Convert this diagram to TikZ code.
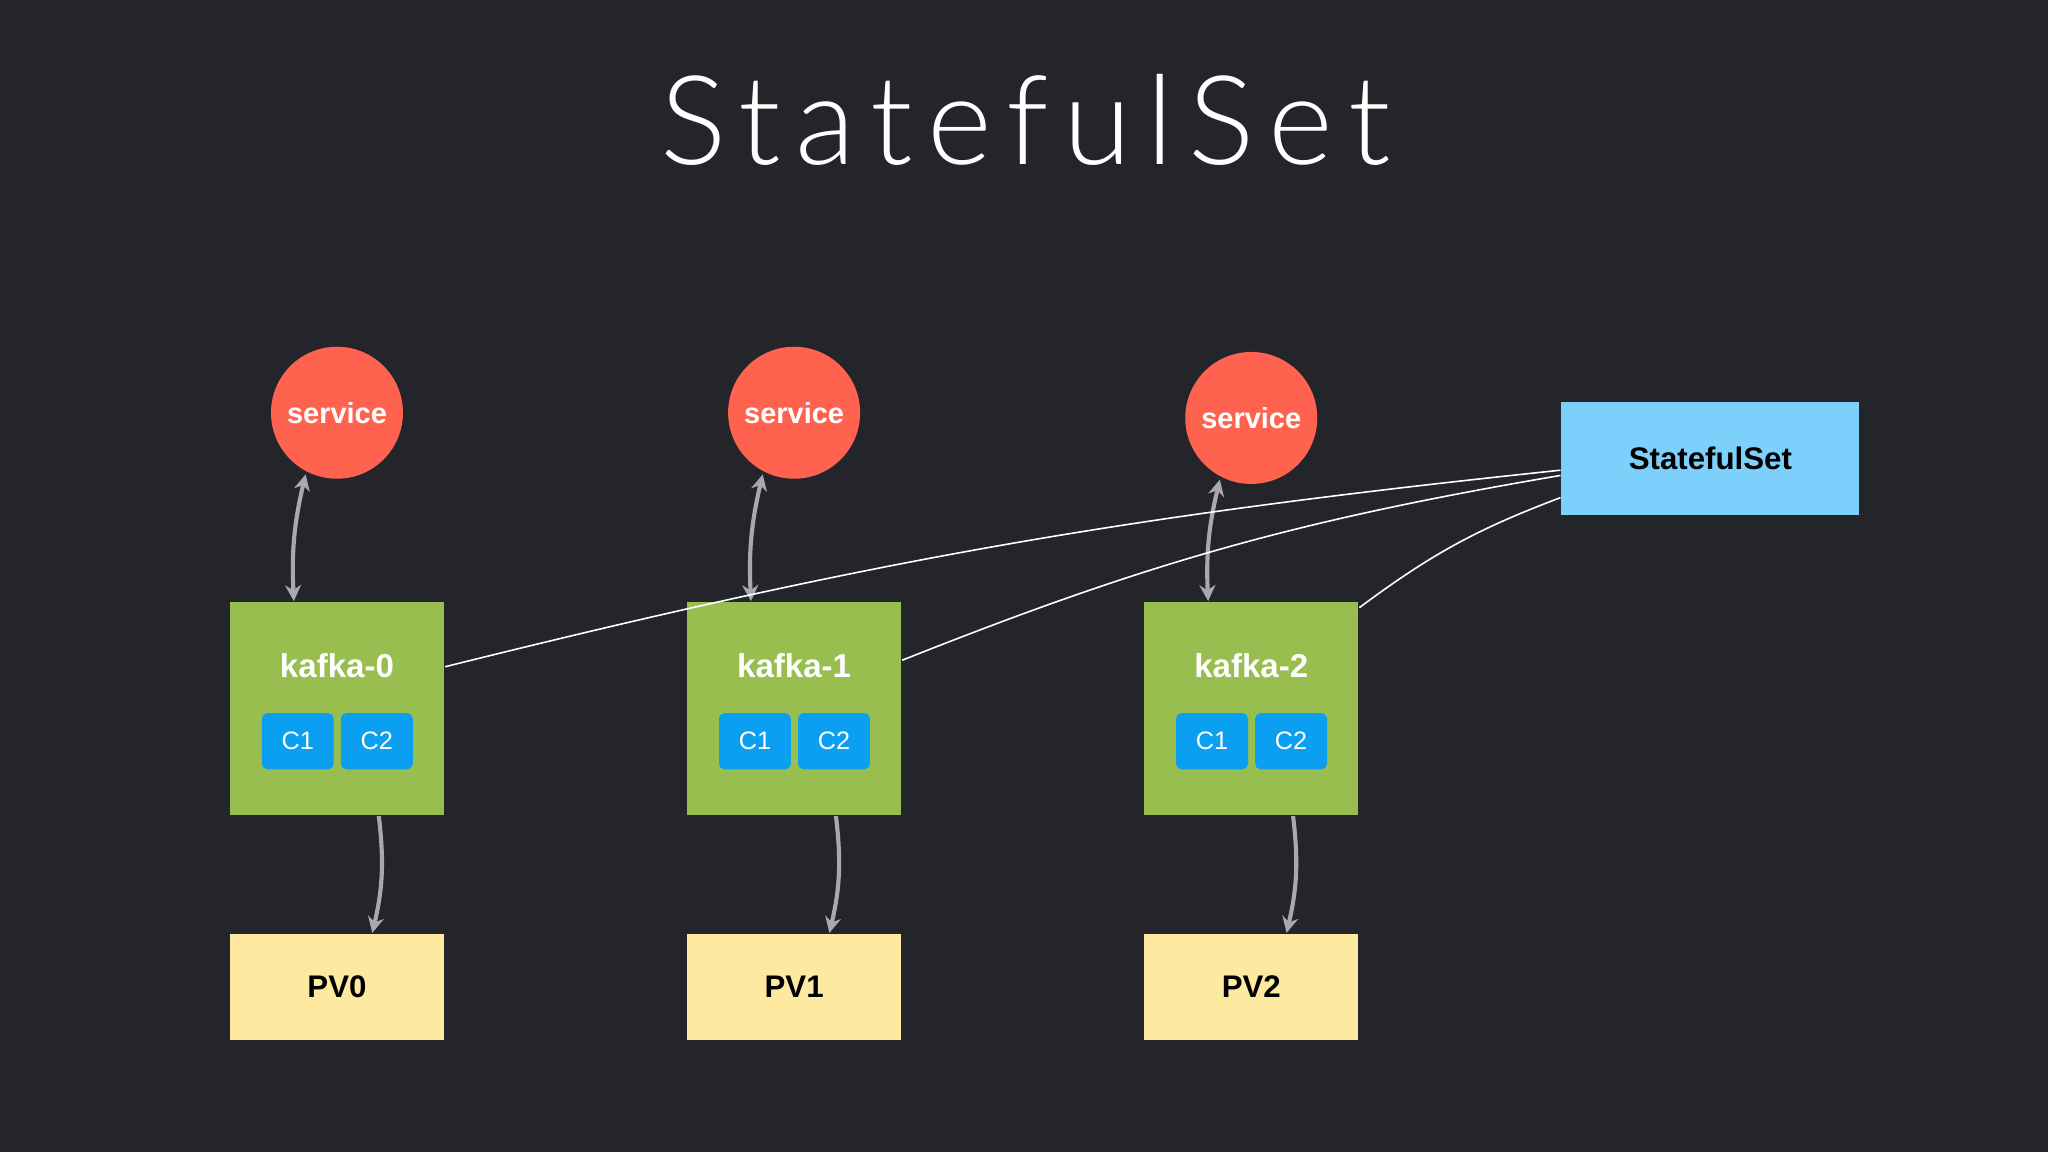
\documentclass[tikz,border=0pt]{standalone}
\usepackage{fontspec}
\setmainfont{Liberation Sans}
\newfontfamily\titlefont[LetterSpace=12]{Lato Light}
\usetikzlibrary{arrows.meta}
\definecolor{bg}{HTML}{23252B}
\definecolor{svc}{HTML}{FF6350}
\definecolor{pod}{HTML}{97BE4F}
\definecolor{ctr}{HTML}{0A9FF0}
\definecolor{pv}{HTML}{FDE9A0}
\definecolor{sts}{HTML}{7DD0FB}
\definecolor{arr}{HTML}{A8A8B0}
\tikzset{
  service/.style={circle, fill=svc, minimum size=10.1mm, inner sep=0, text=white, font=\bfseries\fontsize{6.3}{8}\selectfont},
  pod/.style={rectangle, fill=pod, minimum width=16.4mm, minimum height=16.3mm, inner sep=0},
  ctr/.style={rectangle, rounded corners=1.2pt, fill=ctr, minimum width=5.5mm, minimum height=4.3mm, inner sep=0, text=white, font=\fontsize{5.5}{6}\selectfont},
  vol/.style={rectangle, fill=pv, minimum width=16.4mm, minimum height=8.1mm, inner sep=0, font=\bfseries\fontsize{6.8}{8}\selectfont},
  tip/.style={Stealth[length=3.5pt,width=3.5pt]},
  link/.style={arr, line width=0.9pt, -{Stealth[length=3.5pt,width=3.5pt]}},
  ctl/.style={white, line width=0.35pt}
}
\begin{document}
\begin{tikzpicture}[x=0.01cm,y=-0.01cm]
\fill[bg] (0,0) rectangle (1568,882);
\node[text=white] (title) at (785,92) {\titlefont\fontsize{27}{30}\selectfont StatefulSet};
\node[rectangle, fill=sts, minimum width=22.8mm, minimum height=8.6mm, inner sep=0, font=\bfseries\fontsize{6.8}{8}\selectfont] (sts) at (1309.5,351) {StatefulSet};
%------------------
\foreach \i/\x/\sy in {0/258/316, 1/608/316, 2/958/320}{
  \node[service] (svc\i) at (\x,\sy) {service};
  \node[pod] (kafka\i) at (\x,542.5) {};
  \node[text=white, font=\bfseries\fontsize{7.2}{8}\selectfont] (name\i) at (\x,510) {kafka-\i};
  \node[ctr] (cA\i) at (\x-30,567.5) {C1};
  \node[ctr] (cB\i) at (\x+30.5,567.5) {C2};
  \node[vol] (pv\i) at (\x,755.5) {PV\i};
  \draw[link, {Stealth[length=3.5pt,width=3.5pt]}-{Stealth[length=3.5pt,width=3.5pt]}] ([xshift=-3.3mm]kafka\i.north) to[bend left=8] ([xshift=-2.4mm,yshift=0.4mm]svc\i.south);
  \draw[link] ([xshift=3.2mm]kafka\i.south) to[bend left=10] ([xshift=2.7mm]pv\i.north);
}
\draw[ctl] ([yshift=3.2mm]kafka0.east) to[bend left=4] ([yshift=-0.9mm]sts.west);
\draw[ctl] ([yshift=3.7mm]kafka1.east) to[bend left=6] ([yshift=-1.3mm]sts.west);
\draw[ctl] ([yshift=-0.5mm]kafka2.north east) to[bend left=8] ([yshift=-3mm]sts.west);
\end{tikzpicture}
\end{document}
